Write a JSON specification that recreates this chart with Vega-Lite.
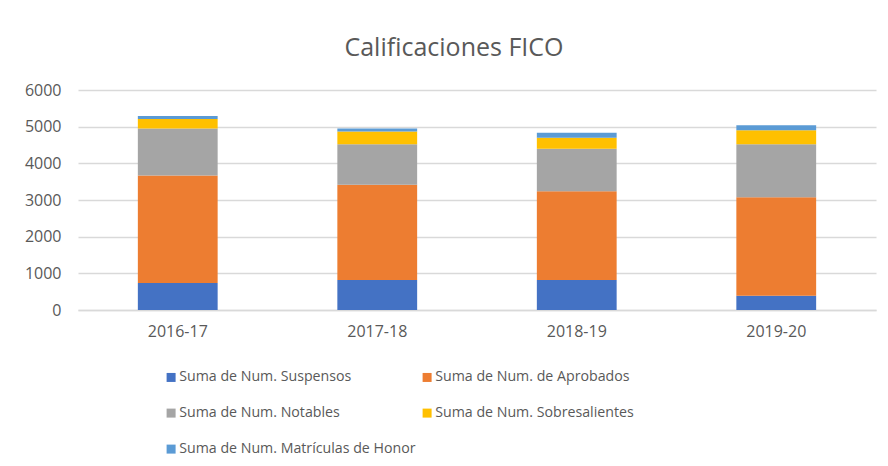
{
  "$schema": "https://vega.github.io/schema/vega-lite/v6.json",
  "autosize": "none",
  "padding": {"left": 78, "top": 90, "right": 12, "bottom": 156},
  "width": 798,
  "height": 220,
  "background": "white",
  "title": {
    "text": "Calificaciones FICO",
    "font": "Open Sans",
    "fontSize": 25,
    "fontWeight": "normal",
    "color": "#595959",
    "anchor": "middle",
    "frame": "group",
    "dx": -23,
    "baseline": "alphabetic",
    "offset": 1
  },
  "data": {
    "values": [
      {"curso": "2016-17", "serie": "Suma de Num. Suspensos", "orden": 1, "valor": 735},
      {"curso": "2016-17", "serie": "Suma de Num. de Aprobados", "orden": 2, "valor": 2933},
      {"curso": "2016-17", "serie": "Suma de Num. Notables", "orden": 3, "valor": 1280},
      {"curso": "2016-17", "serie": "Suma de Num. Sobresalientes", "orden": 4, "valor": 264},
      {"curso": "2016-17", "serie": "Suma de Num. Matrículas de Honor", "orden": 5, "valor": 82},
      {"curso": "2017-18", "serie": "Suma de Num. Suspensos", "orden": 1, "valor": 817},
      {"curso": "2017-18", "serie": "Suma de Num. de Aprobados", "orden": 2, "valor": 2598},
      {"curso": "2017-18", "serie": "Suma de Num. Notables", "orden": 3, "valor": 1106},
      {"curso": "2017-18", "serie": "Suma de Num. Sobresalientes", "orden": 4, "valor": 345},
      {"curso": "2017-18", "serie": "Suma de Num. Matrículas de Honor", "orden": 5, "valor": 82},
      {"curso": "2018-19", "serie": "Suma de Num. Suspensos", "orden": 1, "valor": 817},
      {"curso": "2018-19", "serie": "Suma de Num. de Aprobados", "orden": 2, "valor": 2424},
      {"curso": "2018-19", "serie": "Suma de Num. Notables", "orden": 3, "valor": 1154},
      {"curso": "2018-19", "serie": "Suma de Num. Sobresalientes", "orden": 4, "valor": 300},
      {"curso": "2018-19", "serie": "Suma de Num. Matrículas de Honor", "orden": 5, "valor": 136},
      {"curso": "2019-20", "serie": "Suma de Num. Suspensos", "orden": 1, "valor": 392},
      {"curso": "2019-20", "serie": "Suma de Num. de Aprobados", "orden": 2, "valor": 2685},
      {"curso": "2019-20", "serie": "Suma de Num. Notables", "orden": 3, "valor": 1444},
      {"curso": "2019-20", "serie": "Suma de Num. Sobresalientes", "orden": 4, "valor": 381},
      {"curso": "2019-20", "serie": "Suma de Num. Matrículas de Honor", "orden": 5, "valor": 136}
    ]
  },
  "mark": {"type": "bar"},
  "encoding": {
    "x": {
      "field": "curso",
      "type": "nominal",
      "scale": {"paddingInner": 0.6, "paddingOuter": 0.3},
      "axis": {
        "title": null,
        "labelAngle": 0,
        "labelFont": "Open Sans",
        "labelFontSize": 16,
        "labelColor": "#595959",
        "labelPadding": 13,
        "ticks": false,
        "domainColor": "#d9d9d9",
        "domainWidth": 1.5
      }
    },
    "y": {
      "field": "valor",
      "type": "quantitative",
      "stack": "zero",
      "scale": {"domain": [0, 6000]},
      "axis": {
        "title": null,
        "values": [0, 1000, 2000, 3000, 4000, 5000, 6000],
        "format": "d",
        "labelFont": "Open Sans",
        "labelFontSize": 16,
        "labelColor": "#595959",
        "labelPadding": 17,
        "ticks": false,
        "domain": false,
        "gridColor": "#d9d9d9",
        "gridWidth": 1.5
      }
    },
    "color": {
      "field": "serie",
      "type": "nominal",
      "scale": {
        "domain": ["Suma de Num. Suspensos", "Suma de Num. de Aprobados", "Suma de Num. Notables", "Suma de Num. Sobresalientes", "Suma de Num. Matrículas de Honor"],
        "range": ["#4472C4", "#ED7D31", "#A5A5A5", "#FFC000", "#5B9BD5"]
      },
      "legend": {
        "title": null,
        "orient": "none",
        "legendX": 86,
        "legendY": 280,
        "direction": "horizontal",
        "columns": 2,
        "columnPadding": 4,
        "rowPadding": 21,
        "symbolType": "square",
        "symbolSize": 81,
        "symbolStrokeWidth": 0,
        "labelOffset": 1,
        "labelFont": "Open Sans",
        "labelFontSize": 14.2,
        "labelColor": "#595959",
        "labelLimit": 400
      }
    },
    "order": {"field": "orden", "type": "quantitative"}
  },
  "config": {
    "view": {"stroke": null}
  }
}
